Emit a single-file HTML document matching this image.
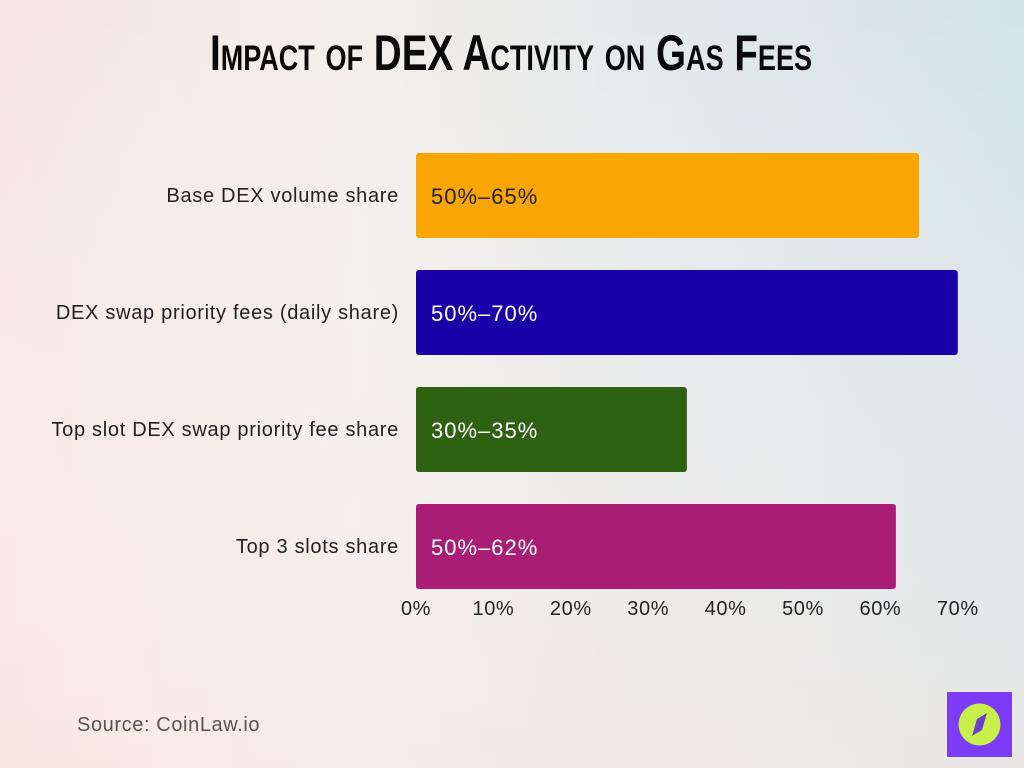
<!DOCTYPE html>
<html><head><meta charset="utf-8"><style>
html,body{margin:0;padding:0;width:1024px;height:768px;overflow:hidden}
body{background:linear-gradient(90deg,#f6e6e2 0%,#f2eeea 35%,#e3e8ea 65%,#d3e3e8 100%);font-family:"Liberation Sans",sans-serif}
</style></head><body>
<svg id="chart" width="1024" height="768" xmlns="http://www.w3.org/2000/svg">
<defs><linearGradient id="bg" x1="0" y1="0" x2="0" y2="1"><stop offset="0" stop-color="#fff" stop-opacity="0"/><stop offset="1" stop-color="#fbe9e2" stop-opacity="0.5"/></linearGradient></defs>
<rect width="1024" height="768" fill="url(#bg)"/>
<text x="210" y="70" textLength="602" lengthAdjust="spacingAndGlyphs" font-family="Liberation Sans Narrow, Liberation Sans, sans-serif" font-weight="bold" font-size="50" style="font-variant:small-caps" fill="#0a0a0a">Impact of DEX Activity on Gas Fees</text>
<g id="bars"></g>
<g id="xaxis"></g>
<text x="77" y="731" font-size="20" letter-spacing="0.6" fill="#555">Source: CoinLaw.io</text>
<g>
<rect x="947" y="692" width="65" height="65" fill="#7c3cf5"/>
<circle cx="979.5" cy="724.5" r="21" fill="#c8f04a"/>
<path d="M987 713 L982 730 L972 736 L977 719 Z" fill="#6a3cd0"/>
</g>
</svg>
<script>
const categories=["Base DEX volume share","DEX swap priority fees (daily share)","Top slot DEX swap priority fee share","Top 3 slots share"];
const highValues=[65,70,35,62];
const valueLabels=["50%–65%","50%–70%","30%–35%","50%–62%"];
const colors=["#f9a602","#1a00a8","#2f6112","#a91d74"];
const ticks=[0,10,20,30,40,50,60,70];
const ns="http://www.w3.org/2000/svg";
const x=v=>416+v*7.74;
const y=i=>153+i*117;
const bars=document.getElementById('bars');
function mk(t,a,p){const e=document.createElementNS(ns,t);for(const k in a)e.setAttribute(k,a[k]);p.appendChild(e);return e;}
categories.forEach((c,i)=>{
 const r=mk('rect',{x:416,y:y(i),width:x(highValues[i])-416,height:85,rx:3,fill:colors[i]},bars);
 
 
 const l=mk('text',{x:399,y:y(i)+49,'text-anchor':'end','font-size':20,'letter-spacing':0.7,fill:'#222'},bars);
 l.textContent=c;
 
 
 const v=mk('text',{x:431,y:y(i)+51,'font-size':22,'letter-spacing':1,fill:i===0?'#222':'#fff'},bars);
 v.textContent=valueLabels[i];
 
 
});
const xa=document.getElementById('xaxis');
ticks.forEach(t=>{
 const e=mk('text',{x:x(t),y:615,'text-anchor':'middle','font-size':20,'letter-spacing':0.6,fill:'#222'},xa);
 e.textContent=t+'%';
 
 
});
</script>
</body></html>
